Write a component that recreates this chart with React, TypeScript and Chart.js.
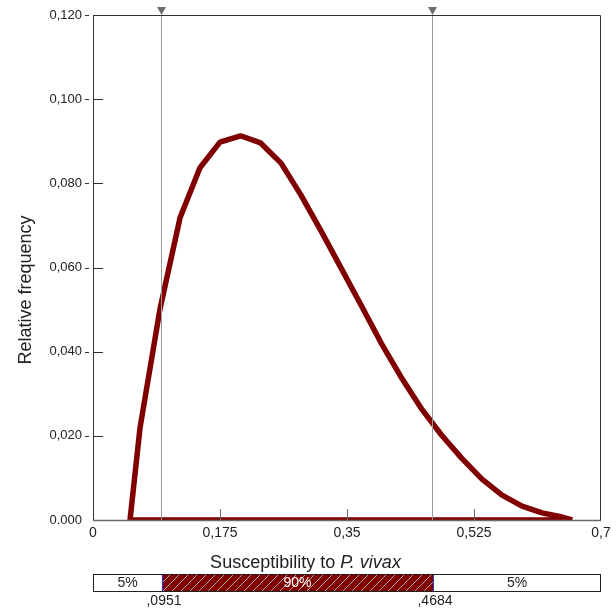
import React, { useEffect, useRef } from 'react';
import { Chart, registerables } from 'chart.js';

Chart.register(...registerables);

const susceptibility = [
  0.051, 0.0648, 0.0923, 0.1199, 0.1474, 0.175, 0.2033, 0.231, 0.2591, 0.2866, 0.3142, 0.3417,
  0.3693, 0.3969, 0.4244, 0.452, 0.4802, 0.5079, 0.536, 0.5636, 0.5912, 0.6187, 0.6463, 0.6601,
];
const relativeFrequency = [
  0, 0.0219, 0.0501, 0.0718, 0.0837, 0.0898, 0.0913, 0.0896, 0.0848, 0.0772, 0.0687, 0.0599,
  0.0511, 0.0421, 0.034, 0.0266, 0.0202, 0.0147, 0.0097, 0.0059, 0.0033, 0.0017, 0.0007, 0,
];
const xTickValues = [0, 0.175, 0.35, 0.525, 0.7];
const xTickLabels = ['0', '0,175', '0,35', '0,525', '0,7'];
const yTickValues = [0, 0.02, 0.04, 0.06, 0.08, 0.1, 0.12];
const yTickLabels = ['0.000', '0,020', '0,040', '0,060', '0,080', '0,100', '0,120'];
const bounds = [0.0951, 0.4684];
const boundLabels = [',0951', ',4684'];
const bandLabels = ['5%', '90%', '5%'];
const xTitleParts = ['Susceptibility to ', 'P. vivax'];
const yTitle = 'Relative frequency';

const FONT = '"Liberation Sans", Arial, Helvetica, sans-serif';

const decorPlugin = {
  id: 'decor',
  afterDatasetsDraw(chart: any) {
    const { ctx, chartArea, scales } = chart;
    const xs = scales.x;
    ctx.save();
    ctx.strokeStyle = '#9a9a9a';
    ctx.lineWidth = 1;
    bounds.forEach((b) => {
      const px = Math.round(xs.getPixelForValue(b)) - 0.5;
      ctx.beginPath();
      ctx.moveTo(px, chartArea.top);
      ctx.lineTo(px, chartArea.bottom);
      ctx.stroke();
    });
    ctx.restore();
  },
  afterDraw(chart: any) {
    const { ctx, chartArea, scales } = chart;
    const xs = scales.x;
    const ys = scales.y;
    const { left, right, top, bottom } = chartArea;
    ctx.save();

    // triangles
    ctx.fillStyle = '#6e6e6e';
    bounds.forEach((b) => {
      const px = Math.round(xs.getPixelForValue(b)) - 0.5;
      ctx.beginPath();
      ctx.moveTo(px - 4.5, top - 8);
      ctx.lineTo(px + 4.5, top - 8);
      ctx.lineTo(px, top);
      ctx.closePath();
      ctx.fill();
    });

    // frame
    ctx.lineWidth = 1;
    ctx.strokeStyle = '#333';
    ctx.beginPath();
    ctx.moveTo(left + 0.5, bottom);
    ctx.lineTo(left + 0.5, top + 0.5);
    ctx.lineTo(right - 0.5, top + 0.5);
    ctx.lineTo(right - 0.5, bottom);
    ctx.stroke();
    ctx.strokeStyle = '#6a6a6a';
    ctx.lineWidth = 1.5;
    ctx.beginPath();
    ctx.moveTo(left, bottom + 0.5);
    ctx.lineTo(right, bottom + 0.5);
    ctx.stroke();

    // y ticks
    ctx.lineWidth = 1;
    ctx.strokeStyle = '#333';
    yTickValues.forEach((v) => {
      if (v === 0) return;
      const py = Math.round(ys.getPixelForValue(v)) + 0.5;
      ctx.beginPath();
      ctx.moveTo(left, py);
      ctx.lineTo(left + 10, py);
      ctx.moveTo(left - 8, py);
      ctx.lineTo(left - 4, py);
      ctx.stroke();
    });
    // x ticks
    ctx.strokeStyle = '#6a6a6a';
    xTickValues.forEach((v) => {
      if (v === 0 || v === 0.7) return;
      const px = Math.round(xs.getPixelForValue(v)) + 0.5;
      ctx.beginPath();
      ctx.moveTo(px, bottom);
      ctx.lineTo(px, bottom - 11);
      ctx.stroke();
    });

    // x title
    ctx.fillStyle = '#222';
    ctx.textBaseline = 'alphabetic';
    ctx.textAlign = 'left';
    const f1 = `18px ${FONT}`;
    const f2 = `italic 18px ${FONT}`;
    ctx.font = f1;
    const w1 = ctx.measureText(xTitleParts[0]).width;
    ctx.font = f2;
    const w2 = ctx.measureText(xTitleParts[1]).width;
    const startX = 305.5 - (w1 + w2) / 2;
    ctx.font = f1;
    ctx.fillText(xTitleParts[0], startX, 568);
    ctx.font = f2;
    ctx.fillText(xTitleParts[1], startX + w1, 568);

    // y title
    ctx.save();
    ctx.translate(31, 290);
    ctx.rotate(-Math.PI / 2);
    ctx.font = f1;
    ctx.textAlign = 'center';
    ctx.fillText(yTitle, 0, 0);
    ctx.restore();

    // percentile bar
    const barTop = 574;
    const barBottom = 591;
    const b0 = Math.round(xs.getPixelForValue(bounds[0]));
    const b1 = Math.round(xs.getPixelForValue(bounds[1]));
    ctx.fillStyle = '#ffffff';
    ctx.fillRect(left, barTop, right - left, barBottom - barTop);
    ctx.fillStyle = '#800000';
    ctx.fillRect(b0, barTop, b1 - b0, barBottom - barTop);
    ctx.save();
    ctx.beginPath();
    ctx.rect(b0, barTop, b1 - b0, barBottom - barTop);
    ctx.clip();
    ctx.strokeStyle = '#a8a8a8';
    ctx.lineWidth = 1;
    const h = barBottom - barTop;
    for (let x = b0 - h; x < b1 + h; x += 9) {
      ctx.beginPath();
      ctx.moveTo(x, barBottom);
      ctx.lineTo(x + h, barTop);
      ctx.stroke();
    }
    ctx.restore();
    ctx.strokeStyle = '#222';
    ctx.lineWidth = 1;
    ctx.strokeRect(left + 0.5, barTop + 0.5, right - left - 1, barBottom - barTop);
    ctx.strokeStyle = '#2a2ab0';
    [b0, b1].forEach((b) => {
      ctx.beginPath();
      ctx.moveTo(b + 0.5, barTop + 1);
      ctx.lineTo(b + 0.5, barBottom);
      ctx.stroke();
    });
    ctx.font = `14px ${FONT}`;
    ctx.textAlign = 'center';
    ctx.textBaseline = 'middle';
    const centers = [(left + b0) / 2, (b0 + b1) / 2, (b1 + right) / 2];
    bandLabels.forEach((t, i) => {
      ctx.fillStyle = i === 1 ? '#ffffff' : '#222';
      ctx.fillText(t, centers[i], 583.5);
    });
    ctx.fillStyle = '#222';
    boundLabels.forEach((t, i) => {
      ctx.fillText(t, (i === 0 ? b0 : b1) + 2, 601.5);
    });
    ctx.restore();
  },
};

export default function App() {
  const canvasRef = useRef<HTMLCanvasElement | null>(null);
  useEffect(() => {
    if (!canvasRef.current) return;
    const points = susceptibility.map((x, i) => ({ x, y: relativeFrequency[i] }));
    points.push({ x: susceptibility[0], y: 0 });
    const chart = new Chart(canvasRef.current, {
      type: 'scatter',
      data: {
        datasets: [
          {
            data: points,
            showLine: true,
            borderColor: '#800000',
            backgroundColor: '#800000',
            borderWidth: 5.5,
            borderJoinStyle: 'bevel',
            pointRadius: 0,
            tension: 0,
            clip: 0,
          } as any,
        ],
      },
      options: {
        responsive: false,
        animation: false,
        layout: { padding: { left: 0, right: 15, top: 15, bottom: 0 } },
        plugins: { legend: { display: false }, tooltip: { enabled: false } },
        scales: {
          x: {
            type: 'linear',
            min: 0,
            max: 0.7,
            grid: { display: true, drawOnChartArea: false, drawTicks: false, color: 'transparent' },
            border: { display: false },
            afterBuildTicks: (s: any) => {
              s.ticks = xTickValues.map((value) => ({ value }));
            },
            afterFit: (s: any) => {
              s.height = 91;
            },
            ticks: {
              autoSkip: false,
              maxRotation: 0,
              padding: 5,
              color: '#222',
              font: { family: FONT, size: 14 },
              callback: (v: any) => {
                const i = xTickValues.findIndex((t) => Math.abs(t - Number(v)) < 1e-9);
                return i >= 0 ? xTickLabels[i] : '';
              },
            },
          },
          y: {
            type: 'linear',
            min: 0,
            max: 0.12,
            grid: {
              display: true,
              drawOnChartArea: false,
              drawTicks: true,
              tickLength: 11,
              tickColor: 'transparent',
              color: 'transparent',
            },
            border: { display: false },
            afterBuildTicks: (s: any) => {
              s.ticks = yTickValues.map((value) => ({ value }));
            },
            afterFit: (s: any) => {
              s.width = 93;
            },
            ticks: {
              autoSkip: false,
              padding: 0,
              color: '#222',
              font: { family: FONT, size: 13 },
              callback: (v: any) => {
                const i = yTickValues.findIndex((t) => Math.abs(t - Number(v)) < 1e-9);
                return i >= 0 ? yTickLabels[i] : '';
              },
            },
          },
        },
      },
      plugins: [decorPlugin],
    });
    return () => chart.destroy();
  }, []);
  return (
    <div style={{ position: 'absolute', left: 0, top: 0, width: 616, height: 611, background: '#fff' }}>
      <canvas ref={canvasRef} width={616} height={611} />
    </div>
  );
}
